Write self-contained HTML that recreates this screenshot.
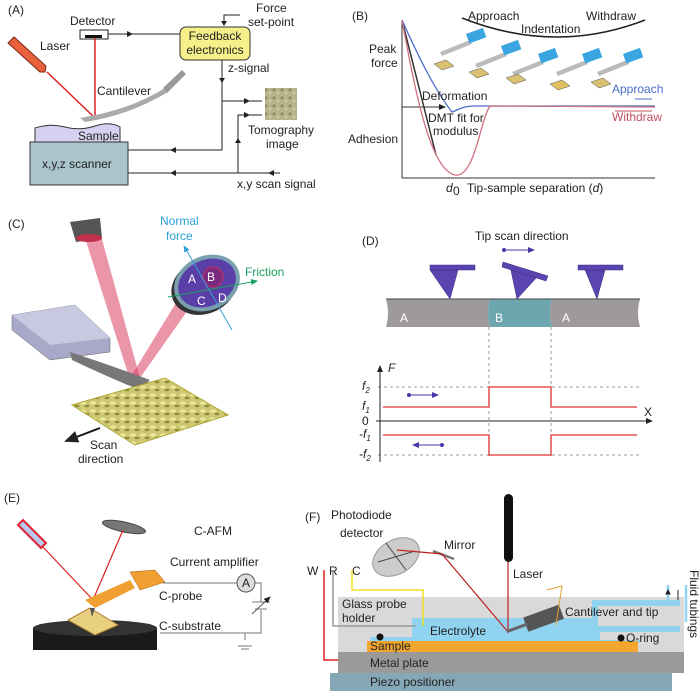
<!DOCTYPE html>
<html><head><meta charset="utf-8"><style>
html,body{margin:0;padding:0;background:#fff}
svg{display:block}
text{font-family:"Liberation Sans",sans-serif;font-size:12px;fill:#222}
</style></head><body>
<svg width="700" height="695" viewBox="0 0 700 695" xmlns="http://www.w3.org/2000/svg">
<defs>
<marker id="ar" markerWidth="8" markerHeight="8" refX="6" refY="3" orient="auto"><path d="M0,0 L7,3 L0,6z" fill="#222"/></marker>
<marker id="ap" markerWidth="8" markerHeight="8" refX="6" refY="3" orient="auto"><path d="M0,0 L7,3 L0,6z" fill="#4a35a8"/></marker>
<marker id="ab" markerWidth="8" markerHeight="8" refX="6" refY="3" orient="auto"><path d="M0,0 L7,3 L0,6z" fill="#3a9fd8"/></marker>
<marker id="ag" markerWidth="8" markerHeight="8" refX="6" refY="3" orient="auto"><path d="M0,0 L7,3 L0,6z" fill="#1aa060"/></marker>
<pattern id="tex" width="8" height="8" patternUnits="userSpaceOnUse"><rect width="8" height="8" fill="#b7b38a"/><circle cx="2" cy="2" r="1.5" fill="#8d8a62"/><circle cx="6" cy="5" r="1.2" fill="#d6d3b0"/></pattern>
<pattern id="ytex" width="10" height="8" patternUnits="userSpaceOnUse"><rect width="10" height="8" fill="#cfc872"/><ellipse cx="3" cy="3" rx="3" ry="1.5" fill="#eee9a0"/><ellipse cx="7" cy="6" rx="2.5" ry="1.2" fill="#8f8a3c"/></pattern>
</defs>

<!-- Panel A -->
<text x="8" y="14" font-size="13">(A)</text>
<text x="70" y="25">Detector</text>
<rect x="80" y="30" width="28" height="9" fill="#fff" stroke="#222"/>
<rect x="85" y="35" width="17" height="3" fill="#111"/>
<polygon points="8,43 14,37 46,66 45,72 40,72" fill="#e8603c" stroke="#7a2a1a"/>
<text x="40" y="50">Laser</text>
<line x1="47" y1="72" x2="95" y2="118" stroke="#e02020" stroke-width="1.5"/>
<line x1="95" y1="38" x2="95" y2="118" stroke="#e02020" stroke-width="1.5"/>
<text x="97" y="95">Cantilever</text>
<path d="M80,118 Q130,110 165,88 L168,92 Q130,115 85,122z" fill="#aaa"/>
<polygon points="163,88 182,70 186,74 167,93" fill="#999"/>
<path d="M35,128 Q50,123 65,127 T95,126 T120,127 L120,142 L35,142z" fill="#d8d0f0" stroke="#333"/>
<text x="78" y="140">Sample</text>
<rect x="30" y="142" width="98" height="43" fill="#a9c4cc" stroke="#333"/>
<text x="42" y="168">x,y,z scanner</text>
<rect x="180" y="27" width="70" height="33" rx="6" fill="#f5f08a" stroke="#333"/>
<text x="215" y="40" text-anchor="middle">Feedback</text>
<text x="215" y="54" text-anchor="middle">electronics</text>
<line x1="108" y1="34" x2="180" y2="34" stroke="#222"/>
<path d="M133,34 l-6,-3 v6z" fill="#222"/>
<text x="256" y="12">Force</text><text x="248" y="26">set-point</text>
<path d="M240,15 H224 V25" fill="none" stroke="#222"/><path d="M221,21 h6 l-3,5z" fill="#222"/>
<text x="228" y="72">z-signal</text>
<path d="M222,60 V150 H128" fill="none" stroke="#222"/>
<path d="M219,78 h6 l-3,5z" fill="#222"/><path d="M170,150 l6,-3 v6z" fill="#222"/>
<path d="M222,101 H262" fill="none" stroke="#222"/><path d="M250,101 l-6,-3 v6z" fill="#222"/>
<rect x="265" y="88" width="32" height="32" fill="url(#tex)"/>
<text x="248" y="134">Tomography</text><text x="266" y="148">image</text>
<path d="M280,173 H128 M238,173 V115 H262" fill="none" stroke="#222"/>
<path d="M170,173 l6,-3 v6z M268,173 l6,-3 v6z M235,143 h6 l-3,-5z M250,115 l-6,-3 v6z" fill="#222"/>
<text x="237" y="188">x,y scan signal</text>

<!-- Panel B -->
<text x="352" y="20" font-size="13">(B)</text>
<line x1="402" y1="20" x2="402" y2="178" stroke="#333"/>
<line x1="402" y1="178" x2="655" y2="178" stroke="#333"/>
<line x1="402" y1="107" x2="445" y2="107" stroke="#333" marker-end="url(#ar)"/>
<line x1="402" y1="20" x2="436" y2="155" stroke="#333" stroke-width="1.5"/>
<path d="M402,20 C420,60 435,90 452,112 C458,110 462,106 475,106 L655,106" fill="none" stroke="#4a6cc8" stroke-width="1.3"/>
<path d="M402,20 C415,90 430,170 455,175 C475,178 480,120 490,106 L655,107" fill="none" stroke="#d07080" stroke-width="1.3"/>
<text x="369" y="53">Peak</text><text x="371" y="67">force</text>
<text x="348" y="143">Adhesion</text>
<text x="422" y="100">Deformation</text>
<text x="428" y="122">DMT fit for</text><text x="433" y="135">modulus</text>
<text x="446" y="192" font-style="italic">d</text><text x="453" y="195" font-size="8">0</text>
<text x="467" y="192">Tip-sample separation (<tspan font-style="italic">d</tspan>)</text>
<text x="612" y="93" style="fill:#4a6cc8">Approach</text>
<line x1="652" y1="99" x2="635" y2="99" stroke="#4a6cc8"/>
<text x="612" y="121" style="fill:#c05060">Withdraw</text>
<line x1="615" y1="111" x2="652" y2="111" stroke="#c05060"/>
<path d="M462,18 Q555,55 645,20" fill="none" stroke="#222" stroke-width="1.5"/>
<text x="468" y="20">Approach</text><text x="586" y="20">Withdraw</text><text x="521" y="33">Indentation</text>
<g>
<g transform="translate(440,40)"><polygon points="0,12 30,0 32,4 2,16" fill="#bbb"/><rect x="26" y="-6" width="18" height="10" fill="#3aa5e0" transform="rotate(-20 26 -6)"/><polygon points="-6,24 6,20 14,26 2,30" fill="#d8c070" stroke="#555" stroke-width=".5"/></g>
<g transform="translate(475,52)"><polygon points="0,12 30,0 32,4 2,16" fill="#bbb"/><rect x="26" y="-6" width="18" height="10" fill="#3aa5e0" transform="rotate(-20 26 -6)"/><polygon points="-6,20 6,16 14,22 2,26" fill="#d8c070" stroke="#555" stroke-width=".5"/></g>
<g transform="translate(512,60)"><polygon points="0,12 30,0 32,4 2,16" fill="#bbb"/><rect x="26" y="-6" width="18" height="10" fill="#3aa5e0" transform="rotate(-20 26 -6)"/><polygon points="-6,18 6,14 14,20 2,24" fill="#d8c070" stroke="#555" stroke-width=".5"/></g>
<g transform="translate(556,60)"><polygon points="0,12 30,0 32,4 2,16" fill="#bbb"/><rect x="26" y="-6" width="18" height="10" fill="#3aa5e0" transform="rotate(-20 26 -6)"/><polygon points="-6,24 6,20 14,26 2,30" fill="#e0c060" stroke="#555" stroke-width=".5"/></g>
<g transform="translate(597,60)"><polygon points="0,12 30,0 32,4 2,16" fill="#bbb"/><rect x="26" y="-6" width="18" height="10" fill="#3aa5e0" transform="rotate(-20 26 -6)"/><polygon points="-6,22 6,18 14,24 2,28" fill="#d8c070" stroke="#555" stroke-width=".5"/></g>
</g>

<!-- Panel C -->
<text x="8" y="228" font-size="13">(C)</text>
<polygon points="85,238 100,232 140,378 130,380" fill="#d84060" opacity=".55"/>
<polygon points="130,378 140,378 195,300 182,293" fill="#d84060" opacity=".55"/>
<polygon points="70,222 100,218 102,238 76,242" fill="#555"/>
<ellipse cx="89" cy="238" rx="13" ry="4" fill="#c0304a"/>
<polygon points="12,315 75,305 110,338 110,352 50,360 12,330" fill="#a8a8c8" stroke="#666" stroke-width=".5"/>
<polygon points="12,315 75,305 110,338 50,345" fill="#c8c8e0"/>
<path d="M70,352 Q110,365 150,380 L140,390 Q110,378 72,360z" fill="#777"/>
<polygon points="72,405 165,378 228,415 135,445" fill="url(#ytex)" stroke="#b0a830"/>
<g transform="rotate(-25 207 283)">
<ellipse cx="203" cy="285" rx="34" ry="27" fill="#333"/>
<ellipse cx="207" cy="283" rx="34" ry="27" fill="#7aa0b0"/>
<ellipse cx="207" cy="283" rx="30" ry="23" fill="#5a3fa8"/>
</g>
<circle cx="213" cy="277" r="10" fill="#7a2a80" stroke="#d03050"/>
<line x1="232" y1="330" x2="184" y2="246" stroke="#3a9fd8" marker-end="url(#ab)"/>
<line x1="168" y1="297" x2="257" y2="281" stroke="#1aa060" marker-end="url(#ag)"/>
<text x="188" y="283" font-size="14" style="fill:#fff">A</text>
<text x="207" y="281" font-size="14" style="fill:#fff">B</text>
<text x="197" y="305" font-size="14" style="fill:#fff">C</text>
<text x="218" y="302" font-size="14" style="fill:#fff">D</text>
<text x="160" y="225" style="fill:#2aa0d8">Normal</text><text x="166" y="240" style="fill:#2aa0d8">force</text>
<text x="245" y="276" style="fill:#1aa060">Friction</text>
<line x1="100" y1="428" x2="66" y2="441" stroke="#111" stroke-width="2" marker-end="url(#ar)"/>
<text x="90" y="449">Scan</text><text x="78" y="463">direction</text>

<!-- Panel D -->
<text x="362" y="245" font-size="13">(D)</text>
<text x="475" y="240">Tip scan direction</text>
<circle cx="504" cy="250" r="2" fill="#4a35a8"/><line x1="504" y1="250" x2="534" y2="250" stroke="#4a35a8" marker-end="url(#ap)"/>
<path d="M386,299 H490 Q486,313 490,327 H386 Q390,313 386,299z" fill="#9e9a9c"/>
<path d="M490,299 H552 Q548,313 552,327 H490 Q486,313 490,299z" fill="#6ea6b0"/>
<path d="M552,299 H640 Q636,313 640,327 H552 Q548,313 552,299z" fill="#9e9a9c"/>
<line x1="386" y1="299" x2="640" y2="299" stroke="#444"/>
<text x="400" y="322" font-size="15" style="fill:#fff">A</text>
<text x="495" y="322" font-size="15" style="fill:#fff">B</text>
<text x="562" y="322" font-size="15" style="fill:#fff">A</text>
<g fill="#5a45b0" stroke="#3a2a80" stroke-width=".5">
<polygon points="430,270 450,299 458,270"/><rect x="430" y="265" width="45" height="5"/>
<polygon points="510,266 517,299 538,276" /><polygon points="503,262 548,276 546,281 502,267"/>
<polygon points="585,270 597,299 605,270"/><rect x="578" y="265" width="45" height="5"/>
</g>
<g stroke="#999" stroke-dasharray="3,3">
<line x1="489" y1="327" x2="489" y2="456"/><line x1="551" y1="327" x2="551" y2="456"/>
<line x1="378" y1="387" x2="640" y2="387"/><line x1="378" y1="455" x2="640" y2="455"/>
</g>
<line x1="380" y1="462" x2="380" y2="366" stroke="#222" marker-end="url(#ar)"/>
<line x1="376" y1="421" x2="652" y2="421" stroke="#222" marker-end="url(#ar)"/>
<path d="M383,407 H489 V387 H551 V407 H637 M383,435 H489 V455 H551 V435 H637" fill="none" stroke="#e03030" stroke-width="1.3"/>
<text x="388" y="372" font-style="italic">F</text>
<text x="644" y="416" font-size="14">X</text>
<text x="362" y="390" font-style="italic">f<tspan font-size="8" dy="3">2</tspan></text>
<text x="362" y="410" font-style="italic">f<tspan font-size="8" dy="3">1</tspan></text>
<text x="362" y="425">0</text>
<text x="359" y="438" font-style="italic">-f<tspan font-size="8" dy="3">1</tspan></text>
<text x="359" y="458" font-style="italic">-f<tspan font-size="8" dy="3">2</tspan></text>
<circle cx="409" cy="395" r="2" fill="#4a35a8"/><line x1="409" y1="395" x2="438" y2="395" stroke="#4a35a8" marker-end="url(#ap)"/>
<circle cx="442" cy="445" r="2" fill="#4a35a8"/><line x1="442" y1="445" x2="413" y2="445" stroke="#4a35a8" marker-end="url(#ap)"/>

<!-- Panel E -->
<text x="4" y="502" font-size="13">(E)</text>
<polygon points="18,525 23,520 46,543 41,548" fill="#b8c8f0" stroke="#e02030" stroke-width="2"/>
<ellipse cx="124" cy="527" rx="22" ry="5" transform="rotate(12 124 527)" fill="#777" stroke="#444"/>
<line x1="43" y1="547" x2="93" y2="600" stroke="#e02020" stroke-width="1.2"/>
<line x1="93" y1="600" x2="123" y2="530" stroke="#e02020" stroke-width="1.2"/>
<path d="M33,628 Q95,618 157,628 V650 H33z" fill="#1a1a1a"/>
<ellipse cx="95" cy="628" rx="62" ry="8" fill="#333"/>
<polygon points="68,620 90,608 118,625 95,635" fill="#e8d080" stroke="#b08030"/>
<polygon points="85,600 130,580 135,588 95,608" fill="#f0a030"/>
<polygon points="130,572 155,570 165,582 140,590" fill="#f0a030" stroke="#a06010" stroke-width=".5"/>
<polygon points="90,608 95,608 92,617" fill="#555"/>
<text x="194" y="535">C-AFM</text>
<text x="170" y="566">Current amplifier</text>
<text x="159" y="600">C-probe</text>
<text x="159" y="630">C-substrate</text>
<path d="M163,583 H237 M255,583 H261 V602 M261,610 V633 H160 M245,633 V640" fill="none" stroke="#777"/>
<path d="M252,602 H270 M255,609 H267 M238,646 H252 M241,649 H249" stroke="#777"/>
<line x1="252" y1="614" x2="270" y2="597" stroke="#555" marker-end="url(#ar)"/>
<circle cx="246" cy="583" r="9" fill="#ddd" stroke="#555"/>
<text x="246" y="587" text-anchor="middle" font-size="11">A</text>

<!-- Panel F -->
<text x="305" y="521" font-size="13">(F)</text>
<text x="331" y="519">Photodiode</text><text x="340" y="537">detector</text>
<ellipse cx="396" cy="557" rx="25" ry="17" transform="rotate(-30 396 557)" fill="#ccc" stroke="#999"/>
<path d="M386,543 L406,570 M378,562 L415,551" stroke="#444"/>
<line x1="433" y1="551" x2="454" y2="559" stroke="#777" stroke-width="2.5"/>
<text x="444" y="549">Mirror</text>
<rect x="504" y="494" width="9" height="68" rx="4.5" fill="#111"/>
<text x="513" y="578">Laser</text>
<rect x="338" y="597" width="346" height="56" fill="#d9d9d9"/>
<path d="M412,618 H592 V600 H680 V606 H598 V626 H680 V632 H600 V640 H640 V643 H370 V637 H412z" fill="#8fd3f0"/>
<path d="M668,606 V585 M686,622 V585" stroke="#8fd3f0" stroke-width="2.5"/>
<path d="M668,590 l-2,4 h4z M678,590 v10" stroke="#222" fill="#222"/>
<rect x="367" y="641" width="271" height="11" fill="#f2a630"/>
<rect x="338" y="652" width="346" height="21" fill="#9a9a9a"/>
<rect x="330" y="673" width="342" height="18" fill="#86a8b6"/>
<circle cx="380" cy="637" r="3.5" fill="#111"/><circle cx="621" cy="638" r="3.5" fill="#111"/>
<polyline points="397,550 442,554 508,632 508,562" fill="none" stroke="#c02020" stroke-width="1.2"/>
<g transform="rotate(-20 540 620)"><rect x="525" y="612" width="38" height="15" fill="#555"/><rect x="505" y="618" width="22" height="3" fill="#666"/></g>
<polyline points="547,590 562,586 556,625" fill="none" stroke="#e0a030"/>
<text x="307" y="575">W</text><text x="329" y="575">R</text><text x="352" y="575">C</text>
<polyline points="324,570 324,660 338,660" fill="none" stroke="#e02020" stroke-width="1.5"/>
<polyline points="333,570 333,626 416,626" fill="none" stroke="#999" stroke-width="1.5"/>
<polyline points="352,570 352,590 423,590 423,626" fill="none" stroke="#f0e020" stroke-width="1.5"/>
<text x="342" y="608">Glass probe</text><text x="342" y="622">holder</text>
<text x="430" y="635">Electrolyte</text>
<text x="565" y="616">Cantilever and tip</text>
<text x="626" y="642">O-ring</text>
<text x="370" y="650">Sample</text>
<text x="370" y="667">Metal plate</text>
<text x="370" y="686">Piezo positioner</text>
<text x="0" y="0" transform="translate(690,570) rotate(90)">Fluid tubings</text>
</svg>
</body></html>
